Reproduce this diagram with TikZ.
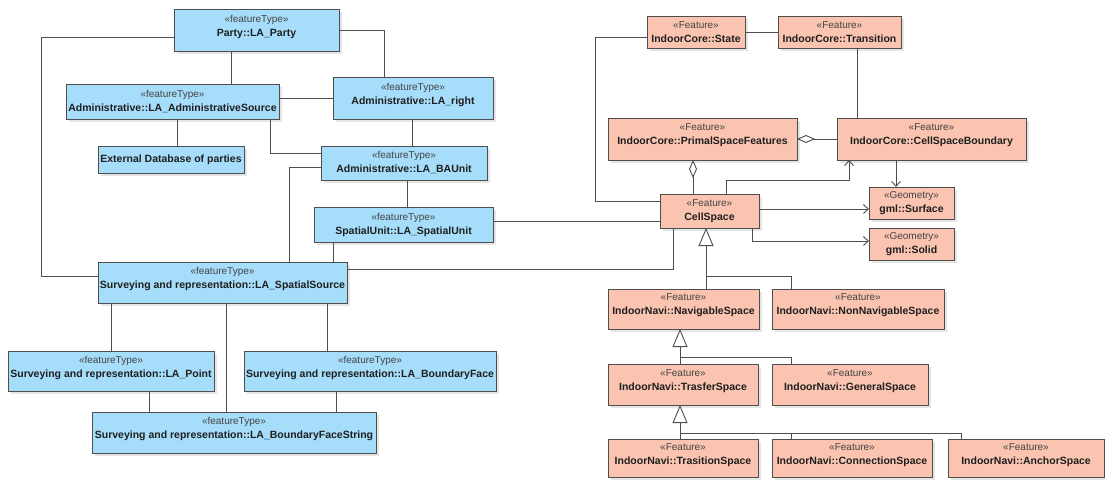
\documentclass[tikz,border=0pt]{standalone}
\usepackage{fontspec}
\setmainfont{Liberation Sans}
\usetikzlibrary{arrows.meta}
\usetikzlibrary{shadows}
\definecolor{blu}{RGB}{166,221,250}
\definecolor{sal}{RGB}{250,196,176}
\definecolor{edge}{RGB}{78,78,78}
\definecolor{stgrey}{RGB}{68,68,68}
\newcommand{\st}[1]{{\fontsize{10}{12}\mdseries\selectfont\color{stgrey}«#1»}}
\begin{document}
\begin{tikzpicture}[x=1pt,y=-1pt,
  every node/.style={draw=edge,line width=0.9pt,align=center,inner sep=2pt,outer sep=0pt,text=black!88,
    font=\fontsize{10.5}{14}\selectfont\bfseries,
    drop shadow={shadow xshift=3pt,shadow yshift=-3pt,fill=black!20,opacity=0.5}},
  bl/.style={fill=blu},
  sa/.style={fill=sal},
  tall/.style={text depth=9pt},
  ln/.style={draw=edge,line width=0.9pt},
  agg/.style={ln,{Diamond[open,length=18pt,width=8pt]}-},
  gen/.style={ln,-{Triangle[open,length=18pt,width=15pt]}},
  dep/.style={ln,-{Straight Barb[length=5pt,width=9pt]}}]
  \useasboundingbox (0,0) rectangle (1105,482);
  \node[bl,tall,minimum width=165pt,minimum height=42pt] (party) at (256.5,30) {\st{featureType}\\Party::LA\_Party};
  \node[bl,minimum width=213pt,minimum height=35pt] (adminsrc) at (172.5,101.5) {\st{featureType}\\Administrative::LA\_AdministrativeSource};
  \node[bl,tall,minimum width=160pt,minimum height=42pt] (right) at (413,98) {\st{featureType}\\Administrative::LA\_right};
  \node[bl,minimum width=146pt,minimum height=27pt] (extdb) at (171,159.5) {External Database of parties};
  \node[bl,minimum width=166pt,minimum height=34pt] (baunit) at (404,163) {\st{featureType}\\Administrative::LA\_BAUnit};
  \node[bl,minimum width=179pt,minimum height=35pt] (spunit) at (403.5,224.5) {\st{featureType}\\SpatialUnit::LA\_SpatialUnit};
  \node[bl,tall,minimum width=249pt,minimum height=41pt] (spsrc) at (222.5,282.5) {\st{featureType}\\Surveying and representation::LA\_SpatialSource};
  \node[bl,tall,minimum width=206pt,minimum height=40pt] (point) at (111,371) {\st{featureType}\\Surveying and representation::LA\_Point};
  \node[bl,tall,minimum width=252pt,minimum height=40pt] (bface) at (370,371) {\st{featureType}\\Surveying and representation::LA\_BoundaryFace};
  \node[bl,tall,minimum width=284pt,minimum height=41pt] (bfstring) at (234,432.5) {\st{featureType}\\Surveying and representation::LA\_BoundaryFaceString};
  \node[sa,minimum width=98pt,minimum height=32pt] (state) at (696,32) {\st{Feature}\\IndoorCore::State};
  \node[sa,minimum width=123pt,minimum height=32pt] (trans) at (839.5,32) {\st{Feature}\\IndoorCore::Transition};
  \node[sa,tall,minimum width=189pt,minimum height=42pt] (psf) at (702.5,139) {\st{Feature}\\IndoorCore::PrimalSpaceFeatures};
  \node[sa,tall,minimum width=189pt,minimum height=42pt] (csb) at (931.5,139) {\st{Feature}\\IndoorCore::CellSpaceBoundary};
  \node[sa,minimum width=99pt,minimum height=34pt] (cell) at (709.5,211) {\st{Feature}\\CellSpace};
  \node[sa,minimum width=85pt,minimum height=32pt] (surface) at (911.5,203) {\st{Geometry}\\gml::Surface};
  \node[sa,minimum width=85pt,minimum height=32pt] (solid) at (911.5,244) {\st{Geometry}\\gml::Solid};
  \node[sa,tall,minimum width=151pt,minimum height=40pt] (nav) at (683.5,309) {\st{Feature}\\IndoorNavi::NavigableSpace};
  \node[sa,tall,minimum width=172pt,minimum height=40pt] (nonnav) at (858,309) {\st{Feature}\\IndoorNavi::NonNavigableSpace};
  \node[sa,tall,minimum width=150pt,minimum height=41pt] (transfer) at (683,384.5) {\st{Feature}\\IndoorNavi::TrasferSpace};
  \node[sa,tall,minimum width=156pt,minimum height=41pt] (general) at (850,384.5) {\st{Feature}\\IndoorNavi::GeneralSpace};
  \node[sa,minimum width=150pt,minimum height=38pt,text depth=7pt] (trasition) at (683,458) {\st{Feature}\\IndoorNavi::TrasitionSpace};
  \node[sa,minimum width=160pt,minimum height=38pt,text depth=7pt] (connection) at (852,458) {\st{Feature}\\IndoorNavi::ConnectionSpace};
  \node[sa,minimum width=156pt,minimum height=38pt,text depth=7pt] (anchor) at (1026,458) {\st{Feature}\\IndoorNavi::AnchorSpace};
  \draw[ln] ([yshift=-7pt]party.west) -- ++(-133pt,0) |- ([yshift=6.5pt]spsrc.west);
  \draw[ln] (party.east) -| ([xshift=-29pt]right.north);
  \draw[ln] ([xshift=-25.5pt]party.south) -- ([xshift=-25.5pt]party.south |- adminsrc.north);
  \draw[ln] (adminsrc.east |- right.west) -- (right.west);
  \draw[ln] ([xshift=4.5pt]adminsrc.south) -- ([xshift=4.5pt]adminsrc.south |- extdb.north);
  \draw[ln] ([xshift=97.5pt]adminsrc.south) |- ([yshift=10pt]baunit.west);
  \draw[ln] ([xshift=-1pt]right.south) -- ([xshift=-1pt]right.south |- baunit.north);
  \draw[ln] ([yshift=-4pt]baunit.west) -| ([xshift=66.5pt]spsrc.north);
  \draw[ln] ([xshift=3pt]baunit.south) -- ([xshift=3pt]baunit.south |- spunit.north);
  \draw[ln] ([yshift=3.5pt]spunit.east) -- ([yshift=3.5pt]spunit.east -| cell.west);
  \draw[ln] ([xshift=-70.5pt]spunit.south) -- ([xshift=-70.5pt]spunit.south |- spsrc.north);
  \draw[ln] ([yshift=13.5pt]spsrc.east) -| ([xshift=-36.5pt]cell.south);
  \draw[ln] ([xshift=-111.5pt]spsrc.south) -- ([xshift=-111.5pt]spsrc.south |- point.north);
  \draw[ln] ([xshift=3.5pt]spsrc.south) -- ([xshift=3.5pt]spsrc.south |- bfstring.north);
  \draw[ln] ([xshift=104.5pt]spsrc.south) -- ([xshift=104.5pt]spsrc.south |- bface.north);
  \draw[ln] ([xshift=38pt]point.south) -- ([xshift=38pt]point.south |- bfstring.north);
  \draw[ln] ([xshift=-34pt]bface.south) -- ([xshift=-34pt]bface.south |- bfstring.north);
  \draw[ln] (state.east) -- (trans.west);
  \draw[ln] ([yshift=-5pt]state.west) -- ++(-52pt,0) |- ([yshift=10pt]cell.west);
  \draw[ln] ([xshift=17.5pt]trans.south) -- ([xshift=17.5pt]trans.south |- csb.north);
  \draw[agg] (psf.east) -- (csb.west);
  \draw[agg] ([xshift=-9.5pt]psf.south) -- ([xshift=-9.5pt]psf.south |- cell.north);
  \draw[dep] ([xshift=16.5pt]cell.north) -- ++(0,14pt) -| ([xshift=-82.5pt]csb.south);
  \draw[dep] ([xshift=-35.5pt]csb.south) -- ([xshift=-35.5pt]csb.south |- surface.north);
  \draw[dep] ([yshift=2pt]cell.east) -- ([yshift=2pt]cell.east -| surface.west);
  \draw[dep] ([xshift=42.5pt]cell.south) |- ([yshift=3pt]solid.west);
  \draw[gen] ([xshift=22.5pt]nav.north) -- ([xshift=22.5pt]nav.north |- cell.south);
  \draw[ln] ([xshift=-67pt]nonnav.north) -- ++(0,13pt) -| ([xshift=22.5pt]nav.north);
  \draw[gen] ([xshift=-3pt]transfer.north) -- ([xshift=-3pt]transfer.north |- nav.south);
  \draw[ln] ([xshift=-59pt]general.north) -- ++(0,7pt) -| ([xshift=-3pt]transfer.north);
  \draw[gen] ([xshift=-3pt]trasition.north) -- ([xshift=-3pt]trasition.north |- transfer.south);
  \draw[ln] ([xshift=-65pt]anchor.north) -- ++(0,6pt) -| ([xshift=-3pt]trasition.north);
  \draw[ln] ([xshift=-61pt]connection.north) -- ++(0,6pt);
\end{tikzpicture}
\end{document}
